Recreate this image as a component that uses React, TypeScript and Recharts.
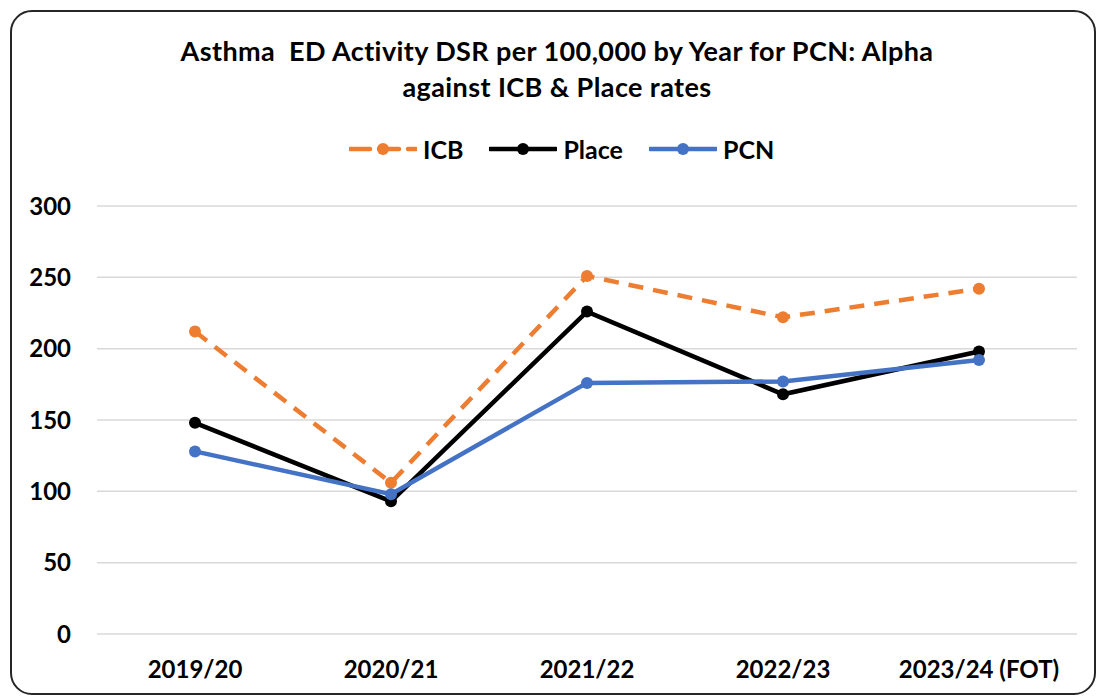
import { LineChart, Line, XAxis, YAxis, CartesianGrid } from 'recharts';

const YEARS = ['2019/20', '2020/21', '2021/22', '2022/23', '2023/24 (FOT)'];
const ICB = [212, 106, 251, 222, 242];
const PLACE = [148, 93, 226, 168, 198];
const PCN = [128, 98, 176, 177, 192];
const Y_TICKS = [0, 50, 100, 150, 200, 250, 300];

const TITLE_LINES = [
  'Asthma\u00a0 ED Activity DSR per 100,000 by Year for PCN: Alpha',
  'against ICB & Place rates',
];

const SERIES = [
  { key: 'ICB', color: '#ED7D31', dash: '15 10' },
  { key: 'Place', color: '#000000', dash: undefined },
  { key: 'PCN', color: '#4472C4', dash: undefined },
];

const FONT = 'Lato, "Open Sans", sans-serif';

const data = YEARS.map((year, i) => ({
  year,
  ICB: ICB[i],
  Place: PLACE[i],
  PCN: PCN[i],
}));

function LegendIcon({ color, dash }: { color: string; dash?: string }) {
  return (
    <svg width={68} height={14} style={{ display: 'block' }}>
      <line
        x1={1}
        y1={7}
        x2={67}
        y2={7}
        stroke={color}
        strokeWidth={4.5}
        strokeDasharray={dash ? '20 9' : undefined}
        strokeLinecap="round"
      />
      <circle cx={34} cy={7} r={6} fill={color} />
    </svg>
  );
}

export default function App() {
  return (
    <div
      style={{
        position: 'absolute',
        left: 0,
        top: 0,
        width: 1097,
        height: 697,
        background: '#fff',
        overflow: 'hidden',
        fontFamily: FONT,
      }}
    >
      <div
        style={{
          position: 'absolute',
          left: 10,
          top: 10,
          width: 1082,
          height: 681,
          border: '2px solid #262626',
          borderRadius: 22,
        }}
      />
      <div
        style={{
          position: 'absolute',
          left: 0,
          top: 33,
          width: 1114,
          textAlign: 'center',
          fontWeight: 700,
          fontSize: 27,
          letterSpacing: 0.4,
          lineHeight: '36px',
          color: '#000',
        }}
      >
        {TITLE_LINES.map((t) => (
          <div key={t}>{t}</div>
        ))}
      </div>
      <div
        style={{
          position: 'absolute',
          left: 349,
          top: 134,
          display: 'flex',
          alignItems: 'center',
          fontWeight: 700,
          fontSize: 25,
          lineHeight: '30px',
        }}
      >
        {SERIES.map((s) => (
          <div key={s.key} style={{ display: 'flex', alignItems: 'center', marginRight: 26 }}>
            <LegendIcon color={s.color} dash={s.dash} />
            <span style={{ marginLeft: 6 }}>{s.key}</span>
          </div>
        ))}
      </div>
      <LineChart
        width={1097}
        height={697}
        data={data}
        margin={{ top: 206, right: 20, bottom: 13, left: 37 }}
        style={{ position: 'absolute', left: 0, top: 0 }}
      >
        <CartesianGrid vertical={false} stroke="#D9D9D9" strokeWidth={1.5} />
        <XAxis
          dataKey="year"
          axisLine={false}
          tickLine={false}
          tickSize={0}
          tickMargin={27}
          height={50}
          interval={0}
          padding={{ left: 98, right: 98 }}
          tick={{ fill: '#000', fontSize: 24, fontWeight: 700, fontFamily: FONT }}
        />
        <YAxis
          domain={[0, 300]}
          ticks={Y_TICKS}
          width={60}
          axisLine={false}
          tickLine={false}
          tickSize={0}
          tickMargin={26}
          tick={{ fill: '#000', fontSize: 24, fontWeight: 700, fontFamily: FONT }}
        />
        {SERIES.map((s) => (
          <Line
            key={s.key}
            dataKey={s.key}
            type="linear"
            stroke={s.color}
            strokeWidth={4.5}
            strokeDasharray={s.dash}
            dot={{ r: 6, fill: s.color, stroke: s.color, strokeWidth: 0, strokeDasharray: '' }}
            activeDot={false}
            isAnimationActive={false}
          />
        ))}
      </LineChart>
    </div>
  );
}
